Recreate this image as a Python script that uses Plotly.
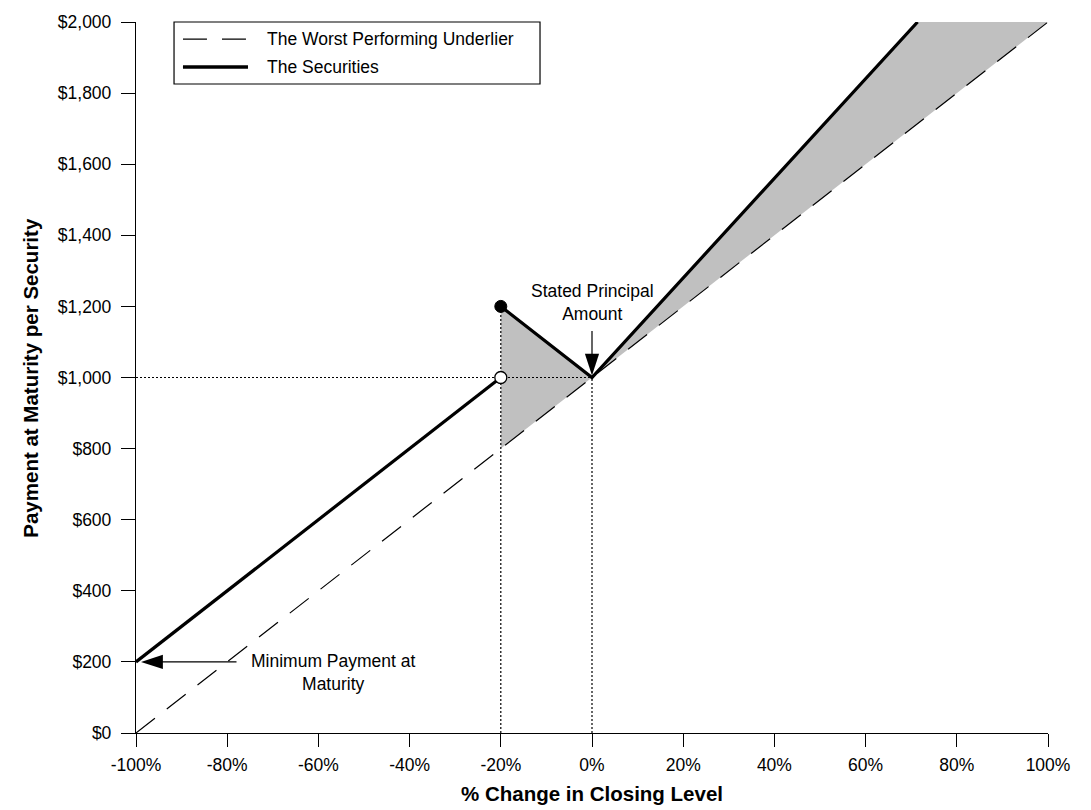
import plotly.graph_objects as go

# % change in closing level of the worst performing underlier
underlier_x = [-100, 100]
underlier_y = [0, 2000]

# payment on the securities: buffered leg and upside leg
buffer_leg_x = [-100, -20]
buffer_leg_y = [200, 1000]
upside_leg_x = [-20, 0, 71.4]
upside_leg_y = [1200, 1000, 2000]

# shaded areas where the securities outperform the underlier
shade_low_x = [-20, -20, 0]
shade_low_y = [800, 1200, 1000]
shade_high_x = [0, 71.4, 100]
shade_high_y = [1000, 2000, 2000]

# dotted guides
guide_h_x = [-100, 0]
guide_h_y = [1000, 1000]
guide_v1_x = [-20, -20]
guide_v1_y = [0, 1200]
guide_v2_x = [0, 0]
guide_v2_y = [0, 1000]

x_ticks = [-100, -80, -60, -40, -20, 0, 20, 40, 60, 80, 100]
x_labels = ["-100%", "-80%", "-60%", "-40%", "-20%", "0%", "20%", "40%", "60%", "80%", "100%"]
y_ticks = [0, 200, 400, 600, 800, 1000, 1200, 1400, 1600, 1800, 2000]
y_labels = ["$0", "$200", "$400", "$600", "$800", "$1,000", "$1,200", "$1,400", "$1,600", "$1,800", "$2,000"]

FONT = "Liberation Sans, Arial, sans-serif"
GREY = "#c0c0c0"
DASH = "24px,15px"
DOT = "2px,2px"
TXT = 17.5

fig = go.Figure()

for xs, ys in [(shade_low_x, shade_low_y), (shade_high_x, shade_high_y)]:
    fig.add_trace(go.Scatter(
        x=xs, y=ys, mode="lines", fill="toself", fillcolor=GREY,
        line=dict(width=0, color=GREY), hoverinfo="skip", showlegend=False,
    ))

for xs, ys in [(guide_h_x, guide_h_y), (guide_v1_x, guide_v1_y), (guide_v2_x, guide_v2_y)]:
    fig.add_trace(go.Scatter(
        x=xs, y=ys, mode="lines", line=dict(color="black", width=1.2, dash=DOT),
        hoverinfo="skip", showlegend=False, cliponaxis=False,
    ))

fig.add_trace(go.Scatter(
    x=underlier_x, y=underlier_y, mode="lines",
    line=dict(color="black", width=1.2, dash=DASH),
    showlegend=False, cliponaxis=False,
))
fig.add_trace(go.Scatter(
    x=buffer_leg_x, y=buffer_leg_y, mode="lines",
    line=dict(color="black", width=3.2), showlegend=False, cliponaxis=False,
))
fig.add_trace(go.Scatter(
    x=upside_leg_x, y=upside_leg_y, mode="lines",
    line=dict(color="black", width=3.2), showlegend=False, cliponaxis=False,
))
# closed dot on the upside leg, open dot at the end of the buffer leg
fig.add_trace(go.Scatter(
    x=upside_leg_x[:1], y=upside_leg_y[:1], mode="markers",
    marker=dict(size=12, color="black", line=dict(width=1, color="black")),
    showlegend=False, cliponaxis=False,
))
fig.add_trace(go.Scatter(
    x=buffer_leg_x[-1:], y=buffer_leg_y[-1:], mode="markers",
    marker=dict(size=12, color="white", line=dict(width=1.3, color="black")),
    showlegend=False, cliponaxis=False,
))

# callout arrow shafts (annotations) + long arrowheads (markers)
fig.add_annotation(x=upside_leg_x[1], y=upside_leg_y[1], ax=0, ay=-48, text="",
                   showarrow=True, arrowhead=0, arrowwidth=1.2, arrowcolor="black", standoff=8)
fig.add_annotation(x=buffer_leg_x[0], y=buffer_leg_y[0], ax=102, ay=0, text="",
                   showarrow=True, arrowhead=0, arrowwidth=1.2, arrowcolor="black", standoff=10)
fig.add_trace(go.Scatter(
    x=[upside_leg_x[1]], y=[upside_leg_y[1]], mode="markers",
    marker=dict(symbol="arrow", size=23, angle=180, standoff=2, color="black",
                line=dict(width=0)),
    hoverinfo="skip", showlegend=False, cliponaxis=False,
))
fig.add_trace(go.Scatter(
    x=[buffer_leg_x[0]], y=[buffer_leg_y[0]], mode="markers",
    marker=dict(symbol="arrow", size=23, angle=-90, standoff=5, color="black",
                line=dict(width=0)),
    hoverinfo="skip", showlegend=False, cliponaxis=False,
))

# hand-drawn legend box (long dashed sample like the original)
fig.add_shape(type="rect", xref="paper", yref="paper", x0=0.0417, x1=0.443,
              y0=0.9128, y1=1.0, line=dict(color="black", width=1.2), fillcolor="white")
fig.add_shape(type="line", xref="paper", yref="paper", x0=0.0515, x1=0.1228,
              y0=0.976, y1=0.976, line=dict(color="black", width=1.2, dash=DASH))
fig.add_shape(type="line", xref="paper", yref="paper", x0=0.0515, x1=0.1228,
              y0=0.9367, y1=0.9367, line=dict(color="black", width=3.5))
for yy, label in [(0.976, "The Worst Performing Underlier"), (0.9367, "The Securities")]:
    fig.add_annotation(xref="paper", yref="paper", x=0.1414, y=yy, text=label,
                       showarrow=False, xanchor="left", yanchor="middle",
                       font=dict(size=TXT, color="black", family=FONT))

# callout texts
fig.add_annotation(x=0, y=1212, text="Stated Principal<br>Amount", showarrow=False,
                   xanchor="center", yanchor="middle", align="center",
                   font=dict(size=TXT, color="black", family=FONT))
fig.add_annotation(x=-56.8, y=170, text="Minimum Payment at<br>Maturity", showarrow=False,
                   xanchor="center", yanchor="middle", align="center",
                   font=dict(size=TXT, color="black", family=FONT))

# axis titles
fig.add_annotation(xref="paper", yref="paper", x=0.5, y=-0.0844,
                   text="<b>% Change in Closing Level</b>", showarrow=False,
                   xanchor="center", yanchor="middle",
                   font=dict(size=20.5, color="black", family=FONT))
fig.add_annotation(xref="paper", yref="paper", x=-0.116, y=0.5, textangle=-90,
                   text="<b>Payment at Maturity per Security</b>", showarrow=False,
                   xanchor="center", yanchor="middle",
                   font=dict(size=20.5, color="black", family=FONT))

fig.update_xaxes(
    range=[-100, 100], tickvals=x_ticks, ticktext=x_labels, automargin=False,
    showgrid=False, zeroline=False, showline=True, linecolor="black", linewidth=1.3,
    ticks="outside", ticklen=13, tickwidth=1.3, tickcolor="black", ticklabelstandoff=3,
    tickfont=dict(size=TXT, color="black", family=FONT),
)
fig.update_yaxes(
    range=[0, 2000], tickvals=y_ticks, ticktext=y_labels, automargin=False,
    showgrid=False, zeroline=False, showline=True, linecolor="black", linewidth=1.3,
    ticks="outside", ticklen=14, tickwidth=1.3, tickcolor="black", ticklabelstandoff=6,
    tickfont=dict(size=TXT, color="black", family=FONT),
)
# page body adds an 8px offset, so margins are trimmed to land the plot area at 136..1048 x 22..733
fig.update_layout(
    width=1091, height=810,
    margin=dict(l=128, r=51, t=14, b=85),
    paper_bgcolor="white", plot_bgcolor="white",
    font=dict(family=FONT, color="black"),
    showlegend=False,
)

fig.write_html("out.html")
